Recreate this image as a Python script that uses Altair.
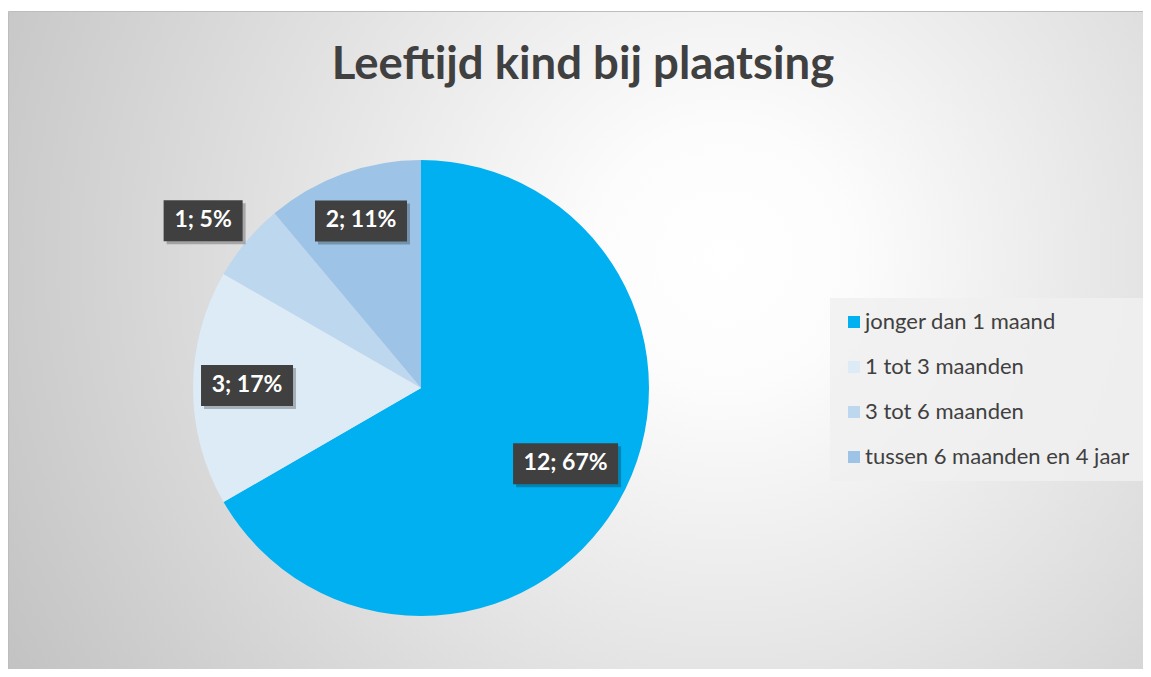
import altair as alt
import pandas as pd

# ---- data ----
categories = ["jonger dan 1 maand", "1 tot 3 maanden", "3 tot 6 maanden", "tussen 6 maanden en 4 jaar"]
values = [12, 3, 1, 2]
percents = [67, 17, 5, 11]
colors = ["#00B0F0", "#DDEBF7", "#BDD7EE", "#9DC3E6"]
title_text = "Leeftijd kind bij plaatsing"

df = pd.DataFrame({
    "category": categories,
    "value": values,
    "pct": percents,
    "order": list(range(len(categories))),
})

# ---- layout ----
W, H = 1135, 661
CX, CY, R = 413, 380, 228
FONT = "Lato"
# label placement (radius in px, angular nudge in degrees) per slice
r_expr = "datum.order == 0 ? 163 : datum.order == 1 ? 174 : datum.order == 2 ? 275 : 178"
da_expr = "datum.order == 0 ? -2.5 : datum.order == 1 ? 1 : datum.order == 2 ? -2.4 : 0.3"

one = alt.Data(values=[{}])

bg = alt.Chart(one).mark_rect(
    fill=alt.RadialGradient(
        gradient="radial", x1=0.62, y1=0.42, r1=0, x2=0.62, y2=0.42, r2=0.75,
        stops=[alt.GradientStop(offset=0, color="#ffffff"),
               alt.GradientStop(offset=0.15, color="#fcfcfc"),
               alt.GradientStop(offset=1, color="#bfbfbf")]),
    stroke="#bdbdbd", strokeWidth=1,
).encode(x=alt.value(0.5), x2=alt.value(W + 20), y=alt.value(3.5), y2=alt.value(H + 20))

title = alt.Chart(one).mark_text(
    text=title_text, font=FONT, fontWeight="bold", fontSize=45.5, color="#404040",
    align="center", baseline="middle",
).encode(x=alt.value(575), y=alt.value(57))

base = alt.Chart(df)

pie = base.mark_arc(outerRadius=R).encode(
    theta=alt.Theta("value:Q", stack=True),
    color=alt.Color(
        "category:N",
        scale=alt.Scale(domain=categories, range=colors),
        sort=categories,
        legend=alt.Legend(
            title=None, orient="none", legendX=822, legendY=290,
            fillColor="rgba(240,240,240,0.85)", padding=13, rowPadding=23,
            labelFont=FONT, labelFontSize=22, labelColor="#404040", labelLimit=500,
            labelOffset=0, symbolType="square", symbolSize=144, symbolStrokeWidth=0,
        ),
    ),
    order=alt.Order("order:Q"),
    x=alt.value(CX), y=alt.value(CY),
)

lab = base.transform_joinaggregate(total="sum(value)").transform_window(
    cum="sum(value)", sort=[alt.SortField("order")], frame=[None, 0]
).transform_calculate(
    mid=f"(datum.cum - datum.value/2) / datum.total * 2 * PI + ({da_expr}) * PI / 180",
    r=r_expr,
    px=f"{CX} + datum.r * sin(datum.mid)",
    py=f"{CY} - datum.r * cos(datum.mid)",
    label="datum.value + '; ' + datum.pct + '%'",
    w="length(datum.label) * 13 + 14",
    bx1="datum.px - datum.w / 2",
    bx2="datum.px + datum.w / 2",
    by1="datum.py - 20",
    by2="datum.py + 21",
)

enc_box = dict(
    x=alt.X("bx1:Q", scale=None, axis=None),
    x2="bx2:Q",
    y=alt.Y("by1:Q", scale=None, axis=None),
    y2="by2:Q",
)

shadow = lab.mark_rect(color="#000000", opacity=0.25, xOffset=3, x2Offset=3, yOffset=3, y2Offset=3).encode(**enc_box)
box = lab.mark_rect(color="#404040").encode(**enc_box)
text = lab.mark_text(font=FONT, fontWeight="bold", fontSize=23, color="#ffffff",
                     align="center", baseline="middle").encode(
    x=alt.X("px:Q", scale=None, axis=None),
    y=alt.Y("py:Q", scale=None, axis=None),
    text="label:N",
)

chart = alt.layer(bg, title, pie, shadow, box, text).properties(
    width=W, height=H, padding=0, autosize=alt.AutoSizeParams(type="none"),
    background="#ffffff",
).configure_view(stroke=None)

chart.save("out.html", embed_options={"renderer": "svg", "actions": False})
